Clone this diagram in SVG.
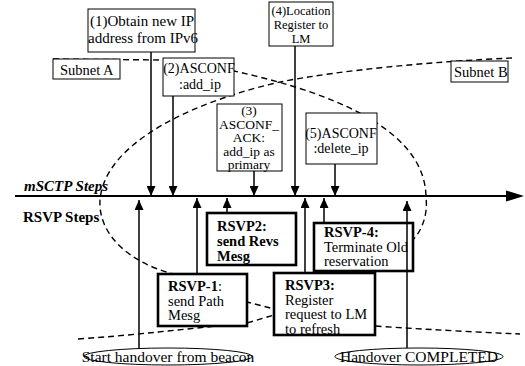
<svg xmlns="http://www.w3.org/2000/svg" width="525" height="366" viewBox="0 0 525 366">
<defs>
<style>
.bg{fill:#fff}
.dash{fill:none;stroke:#000;stroke-width:1.4;stroke-dasharray:6,4}
.box{fill:#fff;stroke:#000;stroke-width:1}
.tbox{fill:#fff;stroke:#000;stroke-width:2.6}
.ell{fill:#fff;stroke:#000;stroke-width:1}
.t{font-family:"Liberation Serif","Times New Roman",serif;font-size:15px;fill:#000}
.r{font-size:14.5px}
.s14{font-size:14px}
.s135{font-size:13.5px}
.s13{font-size:12.5px}
.c{text-anchor:middle}
.b{font-weight:bold}
.bi{font-weight:bold;font-style:italic}
.ln{fill:none;stroke:#000;stroke-width:1.5}
.axis{fill:none;stroke:#000;stroke-width:2}
</style>
<marker id="ah" markerUnits="userSpaceOnUse" markerWidth="10" markerHeight="9" refX="10" refY="4.5" orient="auto">
<path d="M0,0 L10,4.5 L0,9 z" fill="#000"/>
</marker>
</defs>
<rect class="bg" x="0" y="0" width="525" height="366"/>

<g id="subnet-boundaries">
<path class="dash" d="M53,59 L163,60 L234,71 C320,90 425,125 426,197 C428,215 422,230 413,240"/>
<path class="dash" d="M512,58 C440,61 340,70 280,82 C200,100 105,140 100,200 C98,235 130,262 170,273 L247,302 L274,309"/>
<path class="dash" d="M78,339 Q120,336 158,332 L247,323 L274,315 L375,326 Q450,331 520,334"/>
</g>

<g id="timeline">
<line class="axis" x1="15" y1="196" x2="508" y2="196"/>
<polygon points="506,190.5 524,196 506,201.5" fill="#000"/>
<text class="t bi" x="24" y="191">mSCTP Steps</text>
<text class="t b" x="23" y="222">RSVP Steps</text>
</g>

<g id="subnetA">
<rect class="box" x="53" y="59" width="67" height="20"/>
<text class="t" x="60" y="75" style="font-size:14.5px">Subnet A</text>
</g>
<g id="subnetB">
<rect class="box" x="451" y="61" width="57" height="21"/>
<text class="t" x="454" y="77" style="font-size:14.5px">Subnet B</text>
</g>

<g id="step1">
<rect class="box" x="88" y="9" width="107" height="43"/>
<text class="t c" x="142" y="26">(1)Obtain new IP</text>
<text class="t c" x="143" y="43">address from IPv6</text>
</g>
<g id="step2">
<rect class="box" x="163" y="58" width="71" height="38"/>
<text class="t s14 c" x="199" y="73">(2)ASCONF</text>
<text class="t s14 c" x="200" y="89">:add_ip</text>
</g>
<g id="step3">
<rect class="box" x="217" y="104" width="65" height="67"/>
<text class="t s135 c" x="249" y="115">(3)</text>
<text class="t s135 c" x="249" y="128.5">ASCONF_</text>
<text class="t s135 c" x="249" y="142">ACK:</text>
<text class="t s135 c" x="249" y="155.5">add_ip as</text>
<text class="t s135 c" x="249" y="169">primary</text>
</g>
<g id="step4">
<rect class="box" x="269" y="2" width="64" height="44"/>
<text class="t s13 c" x="301" y="15">(4)Location</text>
<text class="t s13 c" x="301" y="29">Register to</text>
<text class="t s13 c" x="301" y="43">LM</text>
</g>
<g id="step5">
<rect class="box" x="306" y="113" width="71" height="51"/>
<text class="t s14 c" x="341" y="138">(5)ASCONF</text>
<text class="t s14 c" x="341" y="153">:delete_ip</text>
</g>

<g id="rsvp2">
<rect class="tbox" x="207" y="213" width="89" height="52"/>
<text class="t r b" x="217" y="231">RSVP2:</text>
<text class="t r b" x="217" y="246">send Revs</text>
<text class="t r b" x="217" y="261">Mesg</text>
</g>
<g id="rsvp4">
<rect class="tbox" x="314" y="223" width="99" height="48"/>
<text class="t r" x="324" y="237"><tspan class="b">RSVP-4:</tspan></text>
<text class="t r" x="324" y="251.5">Terminate Old</text>
<text class="t r" x="324" y="266">reservation</text>
</g>
<g id="rsvp1">
<rect class="tbox" x="158" y="274" width="89" height="52"/>
<text class="t r" x="168" y="291"><tspan class="b">RSVP-1</tspan>:</text>
<text class="t r" x="168" y="305.5">send Path</text>
<text class="t r" x="168" y="320">Mesg</text>
</g>
<g id="rsvp3">
<rect class="tbox" x="274" y="273" width="101" height="62"/>
<text class="t r" x="285" y="290"><tspan class="b">RSVP3:</tspan></text>
<text class="t r" x="285" y="304.5">Register</text>
<text class="t r" x="285" y="319">request to LM</text>
<text class="t r" x="285" y="333.5">to refresh</text>
</g>

<g id="start">
<ellipse class="ell" cx="168" cy="356.5" rx="84" ry="8.5"/>
<text class="t c" x="168" y="362" style="font-size:15.5px">Start handover from beacon</text>
</g>
<g id="completed">
<ellipse class="ell" cx="419" cy="356.5" rx="84" ry="8.5"/>
<text class="t c" x="419" y="362" style="font-size:15.5px">Handover COMPLETED</text>
</g>

<g id="connectors">
<line class="ln" x1="151" y1="52" x2="151" y2="196" marker-end="url(#ah)"/>
<line class="ln" x1="173" y1="96" x2="173" y2="196" marker-end="url(#ah)"/>
<line class="ln" x1="254" y1="171" x2="254" y2="196" marker-end="url(#ah)"/>
<line class="ln" x1="295" y1="46" x2="295" y2="196" marker-end="url(#ah)"/>
<line class="ln" x1="335" y1="164" x2="335" y2="196" marker-end="url(#ah)"/>
<line class="ln" x1="139" y1="348" x2="139" y2="200" marker-end="url(#ah)"/>
<line class="ln" x1="197" y1="274" x2="197" y2="198" marker-end="url(#ah)"/>
<line class="ln" x1="227" y1="213" x2="227" y2="198" marker-end="url(#ah)"/>
<line class="ln" x1="305" y1="273" x2="305" y2="198" marker-end="url(#ah)"/>
<line class="ln" x1="324" y1="223" x2="324" y2="198" marker-end="url(#ah)"/>
<line class="ln" x1="407" y1="348" x2="407" y2="201" marker-end="url(#ah)"/>
</g>
</svg>
